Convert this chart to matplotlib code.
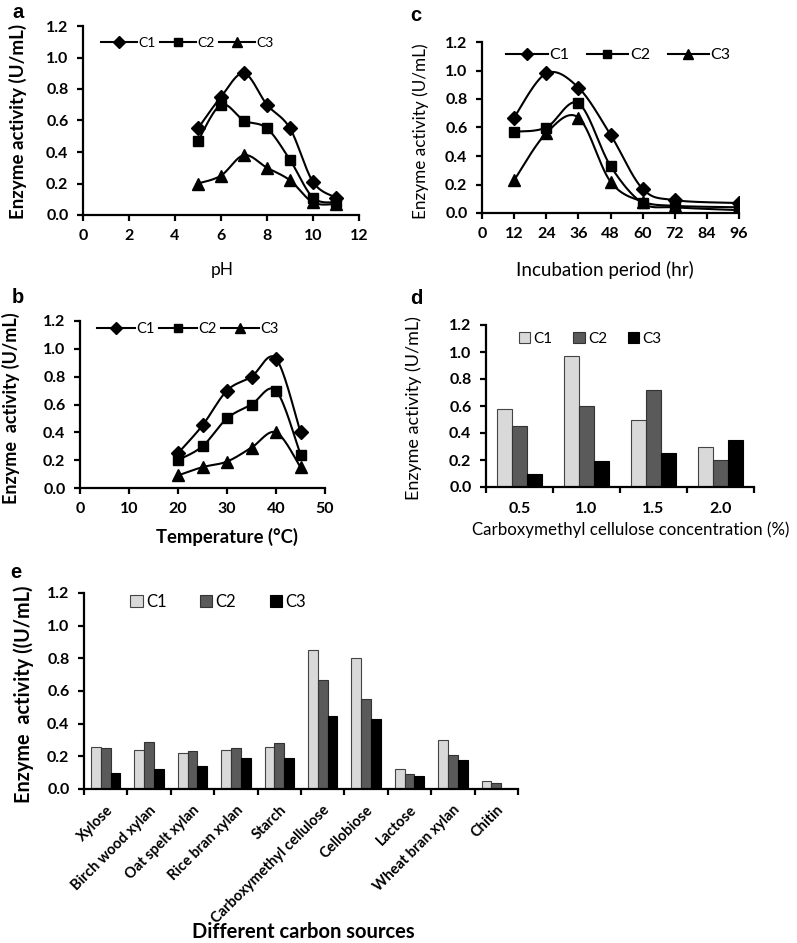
import numpy as np
import matplotlib
matplotlib.use("Agg")
from matplotlib import pyplot as plt

plt.rcParams['font.family'] = ['Lato', 'DejaVu Sans']

W, H = 797, 943
SERIES = ['C1', 'C2', 'C3']

# a: pH
ph = [5, 6, 7, 8, 9, 10, 11]
ph_c1 = [0.55, 0.75, 0.90, 0.70, 0.55, 0.21, 0.11]
ph_c2 = [0.47, 0.70, 0.60, 0.55, 0.35, 0.11, 0.08]
ph_c3 = [0.20, 0.25, 0.38, 0.30, 0.22, 0.08, 0.07]

# b: temperature
temp = [20, 25, 30, 35, 40, 45]
temp_c1 = [0.25, 0.45, 0.70, 0.80, 0.93, 0.40]
temp_c2 = [0.20, 0.30, 0.50, 0.60, 0.70, 0.24]
temp_c3 = [0.09, 0.15, 0.19, 0.29, 0.40, 0.15]

# c: incubation period
hours = [12, 24, 36, 48, 60, 72, 96]
hr_c1 = [0.67, 0.98, 0.88, 0.55, 0.17, 0.09, 0.07]
hr_c2 = [0.57, 0.60, 0.77, 0.33, 0.07, 0.04, 0.02]
hr_c3 = [0.23, 0.56, 0.67, 0.22, 0.08, 0.05, 0.04]

# d: CMC concentration
cmc = ['0.5', '1.0', '1.5', '2.0']
cmc_c1 = [0.58, 0.97, 0.50, 0.30]
cmc_c2 = [0.45, 0.60, 0.72, 0.20]
cmc_c3 = [0.10, 0.19, 0.25, 0.35]

# e: carbon sources
sources = ['Xylose', 'Birch wood xylan', 'Oat spelt xylan', 'Rice bran xylan',
           'Starch', 'Carboxymethyl cellulose', 'Cellobiose', 'Lactose',
           'Wheat bran xylan', 'Chitin']
src_c1 = [0.26, 0.24, 0.22, 0.24, 0.26, 0.85, 0.80, 0.12, 0.30, 0.05]
src_c2 = [0.25, 0.29, 0.23, 0.25, 0.28, 0.67, 0.55, 0.09, 0.21, 0.035]
src_c3 = [0.10, 0.12, 0.14, 0.19, 0.19, 0.45, 0.43, 0.08, 0.18, 0.0]

MARKERS = [('D', 7.5), ('s', 7.5), ('^', 8.5)]
BAR_COLORS = ['#d9d9d9', '#5a5a5a', '#000000']
BAR_EDGES = ['#444444', '#333333', '#000000']


def rect(l, t, r, b):
    return [l / W, 1 - b / H, (r - l) / W, (b - t) / H]


def smooth(x, y, sx, sy, n=30, t=1 / 6.):
    # excel-like smoothed line (bezier through the points)
    p = np.column_stack([np.asarray(x, float) * sx, np.asarray(y, float) * sy])
    pp = np.vstack([p[0], p, p[-1]])
    out = []
    for i in range(len(p) - 1):
        p0, p1, p2, p3 = pp[i], pp[i + 1], pp[i + 2], pp[i + 3]
        c1 = p1 + (p2 - p0) * t
        c2 = p2 - (p3 - p1) * t
        s = np.linspace(0, 1, n)[:, None]
        seg = (1 - s) ** 3 * p1 + 3 * (1 - s) ** 2 * s * c1 + 3 * (1 - s) * s ** 2 * c2 + s ** 3 * p2
        out.append(seg)
    out = np.vstack(out)
    return out[:, 0] / sx, out[:, 1] / sy


def style_axes(ax):
    for s in ['top', 'right']:
        ax.spines[s].set_visible(False)
    for s in ['left', 'bottom']:
        ax.spines[s].set_linewidth(1.6)
    ax.tick_params(direction='out', length=4, width=1.6, labelsize=11.5)
    ax.tick_params(axis='y', pad=6.5)
    ax.tick_params(axis='x', pad=6)
    ax.set_ylim(0, 1.2)
    ax.set_yticks(np.arange(0, 1.21, 0.2))
    ax.set_yticklabels(['%.1f' % v for v in np.arange(0, 1.21, 0.2)])


def bold_ticks(ax):
    plt.setp(ax.get_xticklabels() + ax.get_yticklabels(), fontweight='bold')


def line_panel(ax, x, ys, xlim, xticks, box, leg_anchor, leg_size=10, colsp=0.3):
    l, t, r, b = box
    sx = (r - l) / (xlim[1] - xlim[0])
    sy = (b - t) / 1.2
    handles = []
    for y, (m, ms), name in zip(ys, MARKERS, SERIES):
        xs, yss = smooth(x, y, sx, sy)
        ax.plot(xs, yss, color='black', lw=1.5, zorder=2)
        ax.plot(x, y, ls='none', marker=m, ms=ms, color='black', zorder=3)
        h, = ax.plot([], [], color='black', lw=1.5, marker=m, ms=ms * 0.8, label=name)
        handles.append(h)
    ax.set_xlim(*xlim)
    ax.set_xticks(xticks)
    style_axes(ax)
    bold_ticks(ax)
    ax.legend(handles=handles, loc='center left', bbox_to_anchor=leg_anchor, ncol=3,
              frameon=False, handlelength=2.6, handletextpad=0.1, columnspacing=colsp,
              fontsize=leg_size, borderaxespad=0, borderpad=0)


def bar_panel(ax, cats, ys, xmax):
    x = np.arange(len(cats))
    w = 0.225
    handles = []
    for i, (y, name) in enumerate(zip(ys, SERIES)):
        h = ax.bar(x + (i - 1) * w, y, w, color=BAR_COLORS[i], edgecolor=BAR_EDGES[i],
                   linewidth=0.8, label=name, zorder=2)
        handles.append(h)
    ax.set_xlim(-0.5, xmax)
    ax.set_xticks(x)
    ax.set_xticks(np.arange(-0.5, len(cats) + 0.5, 1), minor=True)
    style_axes(ax)
    ax.tick_params(axis='x', which='major', length=0)
    ax.tick_params(axis='x', which='minor', direction='out', length=4, width=1.6)
    return handles


def fig_pt(px, py):
    return px / W, 1 - py / H


fig = plt.figure(figsize=(W / 100., H / 100.), dpi=100, facecolor='w')

# panel a
box_a = (83, 26, 359, 215)
ax_a = fig.add_axes(rect(*box_a))
line_panel(ax_a, ph, [ph_c1, ph_c2, ph_c3], (0, 12), range(0, 13, 2), box_a,
           ((101 - 83) / 276., 1 - (43 - 26) / 189.))
ax_a.set_xlabel('pH', fontsize=12.5)
ax_a.set_ylabel('Enzyme activity (U/mL)', fontsize=13.5, fontweight='bold')
ax_a.xaxis.set_label_coords(*fig_pt(222, 262), transform=fig.transFigure)
ax_a.yaxis.set_label_coords(*fig_pt(27, 121), transform=fig.transFigure)

# panel b
box_b = (80, 321, 325, 488)
ax_b = fig.add_axes(rect(*box_b))
line_panel(ax_b, temp, [temp_c1, temp_c2, temp_c3], (0, 50), range(0, 51, 10), box_b,
           ((97 - 80) / 245., 1 - (329 - 321) / 167.), leg_size=10.5)
ax_b.set_xlabel('Temperature (\u00b0C)', fontsize=13.3, fontweight='bold')
ax_b.set_ylabel('Enzyme  activity (U/mL)', fontsize=13, fontweight='bold')
ax_b.xaxis.set_label_coords(*fig_pt(227, 528), transform=fig.transFigure)
ax_b.yaxis.set_label_coords(*fig_pt(20, 408), transform=fig.transFigure)

# panel c
box_c = (482, 42, 739, 213)
ax_c = fig.add_axes(rect(*box_c))
line_panel(ax_c, hours, [hr_c1, hr_c2, hr_c3], (0, 96), range(0, 97, 12), box_c,
           ((506 - 482) / 257., 1 - (55 - 42) / 171.), leg_size=11.5, colsp=1.1)
ax_c.set_xlabel('Incubation period (hr)', fontsize=13.5)
ax_c.set_ylabel('Enzyme activity (U/mL)', fontsize=12.3)
ax_c.xaxis.set_label_coords(*fig_pt(605, 261), transform=fig.transFigure)
ax_c.yaxis.set_label_coords(*fig_pt(429, 131), transform=fig.transFigure)

# panel d
box_d = (486, 325, 754, 487)
ax_d = fig.add_axes(rect(*box_d))
hd = bar_panel(ax_d, cmc, [cmc_c1, cmc_c2, cmc_c3], 3.5)
ax_d.set_xticklabels(cmc)
ax_d.tick_params(axis='x', which='major', pad=11)
bold_ticks(ax_d)
ax_d.legend(handles=hd, loc='center left', bbox_to_anchor=((519 - 486) / 268., 1 - (339 - 325) / 162.),
            ncol=3, frameon=False, handlelength=0.75, handleheight=0.75, handletextpad=0.2,
            columnspacing=1.35, fontsize=11, borderaxespad=0, borderpad=0)
ax_d.set_xlabel('Carboxymethyl cellulose concentration (%)', fontsize=12.2)
ax_d.set_ylabel('Enzyme activity (U/mL)', fontsize=13)
ax_d.xaxis.set_label_coords(*fig_pt(631, 521), transform=fig.transFigure)
ax_d.yaxis.set_label_coords(*fig_pt(422, 408), transform=fig.transFigure)

# panel e
box_e = (84, 593, 518, 789)
ax_e = fig.add_axes(rect(*box_e))
he = bar_panel(ax_e, sources, [src_c1, src_c2, src_c3], 9.12)
ax_e.set_xticklabels(sources, rotation=45, ha='right', va='top', rotation_mode='anchor',
                     fontsize=10.5)
ax_e.tick_params(axis='x', which='major', pad=10)
bold_ticks(ax_e)
ax_e.legend(handles=he, loc='center left', bbox_to_anchor=((130 - 84) / 434., 1 - (602 - 593) / 196.),
            ncol=3, frameon=False, handlelength=0.75, handleheight=0.75, handletextpad=0.2,
            columnspacing=2.0, fontsize=12, borderaxespad=0, borderpad=0)
ax_e.set_xlabel('Different carbon sources', fontsize=14.5, fontweight='bold')
ax_e.set_ylabel('Enzyme  activity ((U/mL)', fontsize=14.3, fontweight='bold')
ax_e.xaxis.set_label_coords(*fig_pt(303, 922), transform=fig.transFigure)
ax_e.yaxis.set_label_coords(*fig_pt(34, 694), transform=fig.transFigure)

# panel letters
for txt, px, py in [('a', 12, 18), ('b', 12, 303), ('c', 410, 21), ('d', 410, 304), ('e', 10, 578)]:
    fig.text(px / W, 1 - py / H, txt, fontsize=14.5, fontweight='bold', ha='left', va='baseline',
             family='Liberation Sans')

fig.savefig('out.png', dpi=100)
